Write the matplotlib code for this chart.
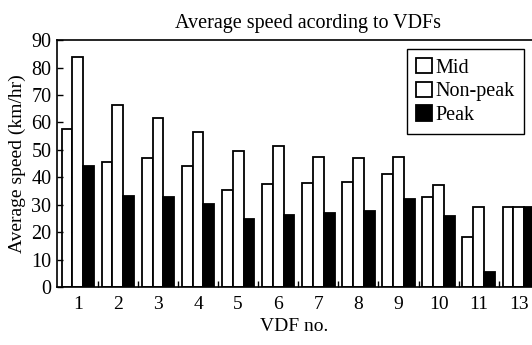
import numpy as np
import matplotlib
matplotlib.use("Agg")
import matplotlib.pyplot as plt

# valeurs
vdf_labels = ["1", "2", "3", "4", "5", "6", "7", "8", "9", "10", "11", "13"]
mid = [57.7, 45.6, 47.2, 44.0, 35.4, 37.7, 38.1, 38.3, 41.1, 32.8, 18.5, 29.4]
non_peak = [84.0, 66.3, 61.8, 56.6, 49.6, 51.6, 47.6, 47.2, 47.4, 37.4, 29.4, 29.4]
peak = [44.3, 33.4, 33.0, 30.4, 25.0, 26.4, 27.0, 27.8, 32.1, 26.0, 5.5, 29.4]

plt.rcParams['font.family'] = ['Liberation Serif', 'DejaVu Serif']

fig = plt.figure(figsize=(5.32, 3.45), dpi=100)
ax = fig.add_axes([0.107, 0.167, 0.893, 0.717])

x = np.arange(len(vdf_labels))
w = 0.27
ax.bar(x - w, mid, w, color='white', edgecolor='black', linewidth=1.3, label='Mid')
ax.bar(x, non_peak, w, color='white', edgecolor='black', linewidth=1.3, label='Non-peak')
ax.bar(x + w, peak, w, color='black', edgecolor='black', linewidth=1.3, label='Peak')

ax.set_xlim(-0.52, 11.33)
ax.set_ylim(0, 90)
ax.set_yticks(range(0, 91, 10))
ax.set_xticks(x)
ax.set_xticklabels(vdf_labels)
ax.set_xticks(x[:-1] + 0.5, minor=True)
ax.tick_params(axis='x', which='major', length=0, pad=6, labelsize=14)
ax.tick_params(axis='x', which='minor', direction='in', length=4, width=1)
ax.tick_params(axis='y', direction='in', length=4, width=1, pad=4, labelsize=14.5)

ax.spines['right'].set_visible(False)
for s in ['left', 'bottom', 'top']:
    ax.spines[s].set_linewidth(1.2)

ax.set_title('Average speed acording to VDFs', fontsize=14.5, pad=9, x=0.528)
ax.set_xlabel('VDF no.', fontsize=14, labelpad=4)
ax.set_ylabel('Average speed (km/hr)', fontsize=14, labelpad=4)

leg = ax.legend(loc='upper right', bbox_to_anchor=(0.983, 0.964), borderaxespad=0,
                fancybox=False, edgecolor='black', fontsize=14.5,
                handlelength=0.8, handleheight=0.8, handletextpad=0.2,
                labelspacing=0.2, borderpad=0.45, framealpha=1)
leg.get_frame().set_linewidth(1.0)

fig.savefig('out.png', dpi=100)
